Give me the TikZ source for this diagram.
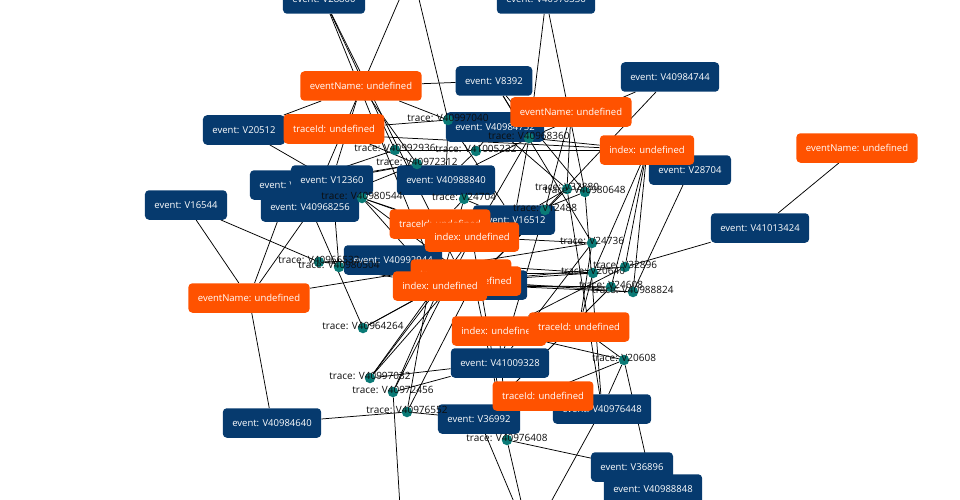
\documentclass[tikz,border=0pt]{standalone}
\usepackage{fontspec}
\setmainfont{Open Sans}
\usetikzlibrary{backgrounds}
\definecolor{evblue}{HTML}{063A6E}
\definecolor{orng}{HTML}{FF5200}
\definecolor{tdotc}{HTML}{0A7A76}
\begin{document}
\begin{tikzpicture}[x=1pt,y=-1pt,
  ev/.style={fill=evblue,text=white,rounded corners=4pt,minimum height=29.5pt,inner xsep=9.5pt,inner ysep=0pt,font=\fontsize{9.5}{11}\selectfont},
  attrbox/.style={ev,fill=orng},
  tdot/.style={circle,fill=tdotc,inner sep=0pt,minimum size=10.5pt},
  tlab/.style={font=\fontsize{10}{12}\selectfont,text=black!95,inner sep=0pt},
  lnk/.style={draw=black,line width=0.75pt}]
\useasboundingbox (0,0) rectangle (960,500);
% off-canvas ends
\coordinate (offtop) at (412,-30);
\coordinate (offbot) at (530,540);
\coordinate (offbotb) at (402,540);
% event nodes
\node[ev] (e28800) at (324,-1) {event: V28800};
\node[ev] (e40970336) at (546,-1) {event: V40970336};
\node[ev] (e8392) at (494,81) {event: V8392};
\node[ev] (e40984744) at (670,77) {event: V40984744};
\node[ev] (e20512) at (244,130) {event: V20512};
\node[ev] (e40984752) at (495,127) {event: V40984752};
\node[ev] (eA) at (291,185) {event: V12344};
\node[ev] (e12360) at (332,180) {event: V12360};
\node[ev] (e40968256) at (310,207) {event: V40968256};
\node[ev] (e40988840) at (446,180) {event: V40988840};
\node[ev] (e16544) at (186,205) {event: V16544};
\node[ev] (e16512) at (514,220) {event: V16512};
\node[ev] (e40992944) at (393,260) {event: V40992944};
\node[ev] (eB) at (478,285) {event: V40984736};
\node[ev] (e41013424) at (760,228) {event: V41013424};
\node[ev] (e28704) at (690,170) {event: V28704};
\node[ev] (e41009328) at (500,363) {event: V41009328};
\node[ev] (e40984640) at (272,423) {event: V40984640};
\node[ev] (e36992) at (479,419) {event: V36992};
\node[ev] (e40976448) at (602,409) {event: V40976448};
\node[ev] (e36896) at (632,467) {event: V36896};
\node[ev] (e40988848) at (653,489) {event: V40988848};
% attribute nodes
\node[attrbox] (o1) at (361,86) {eventName: undefined};
\node[attrbox] (o2) at (334,129) {traceId: undefined};
\node[attrbox] (o3) at (571,112) {eventName: undefined};
\node[attrbox] (o4) at (647,150) {index: undefined};
\node[attrbox] (o5) at (857,148) {eventName: undefined};
\node[attrbox] (o6) at (249,298) {eventName: undefined};
\node[attrbox] (o7) at (440,224) {traceId: undefined};
\node[attrbox] (o8) at (472,237) {index: undefined};
\node[attrbox] (o9a) at (461,274) {traceId: undefined};
\node[attrbox] (o9b) at (474,281) {index: undefined};
\node[attrbox] (o9c) at (440,286) {index: undefined};
\node[attrbox] (o10) at (499,331) {index: undefined};
\node[attrbox] (o11) at (579,327) {traceId: undefined};
\node[attrbox] (o12) at (543,396) {traceId: undefined};
% trace nodes
\foreach \n/\x/\y in {40997040/448/120,40968360/529/138,40992936/395/150,41005232/476/151,40972312/417/164,40980544/362/198,24704/464/199,32880/567/189,40980648/585/192,12488/545/210,24736/592/243,32896/625/267,20640/593/273,24608/611/287,40988824/633/292,40966532/319/262,40980504/339/267,40964264/363/328,40997032/370/378,40972456/393/392,40976552/407/412,40976408/507/440,20608/624/360}{
  \node[tdot] (d\n) at (\x,\y) {};
  \node[tlab] (l\n) at ([yshift=2pt]d\n.center) {trace: V\n};
}
% connectors
\begin{scope}[on background layer]
\foreach \a/\b in {e28800/d40992936,e28800/o9c,e28800/o9a,offtop/e40968256,offtop/d40997040,
 e40970336/d40968360,e40970336/d40980648,e8392/o1,e8392/d40968360,e8392/d24736,e8392/d40980648,
 e40984744/d12488,e40984744/d40968360,e20512/d40980544,e20512/o1,e20512/o4,o2/d40997040,
 d40992936/o4,d40968360/o4,o1/e12360,o1/d40997040,o1/d40972312,o2/d40972312,
 d40997040/e40988840,d40997040/e16512,d41005232/e40984752,d41005232/e40988840,
 d40972312/e12360,d40972312/e40968256,d40972312/eA,d40992936/eA,
 d40968360/e40988840,d40968360/e16512,d40968360/o8,
 d24704/e40988840,d24704/o7,d24704/e16512,d24704/o9c,
 d40980544/o7,d40980544/o8,d40980544/o9c,d40980544/eB,
 e16544/o6,e16544/d40966532,eA/o6,e12360/o6,e40968256/d40964264,e12360/d40980504,
 o6/d24736,o6/e40984640,e40984640/d40976552,
 d40966532/e40992944,d40966532/o9a,d40980504/e40992944,d40980504/o9c,
 d40964264/o9c,d40964264/o9a,d40997032/o9c,d40997032/o9a,d40997032/o8,d40997032/e41009328,
 d40972456/offbotb,d40972456/e41009328,d40972456/o9c,d40972456/o8,
 d40976552/o9b,d40976552/e36992,d40976552/o7,
 o5/e41013424,e41013424/d32896,e28704/d40988824,
 o4/d32896,o4/d40988824,o4/d24608,o4/d20640,
 o3/d12488,o3/d32880,
 d32880/e40984752,d32880/e16512,d32880/o9b,d32880/e40976448,
 d40980648/e40976448,d40980648/o8,
 d12488/e16512,d12488/o9b,d12488/e41009328,
 d24736/o8,d24736/e41009328,d24736/o11,
 d20640/o9a,d20640/o9b,d20640/e40992944,d20640/o11,
 d24608/o9c,d24608/eB,d24608/e36992,
 d40988824/o9b,d40988824/eB,d32896/o9b,d32896/o10,
 d20608/e40988848,d20608/o11,d20608/e36992,d20608/o10,d20608/e40976448,
 d40976408/e36896,d40976408/offbot,e36992/offbot,e40976448/offbot,e40988848/offbot,
 d40976408/o9b,d40976408/o10,d40976408/o8}{
  \draw[lnk] (\a) -- (\b);
}
\end{scope}
\end{tikzpicture}
\end{document}
